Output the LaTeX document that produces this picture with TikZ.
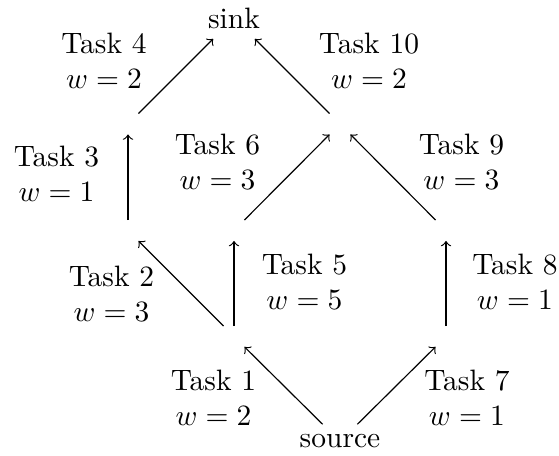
\documentclass[tikz,border=0pt]{standalone}
\begin{document}
\begin{tikzpicture}[x=0.339pt,y=-0.339pt,
  pt/.style={inner sep=0.3333em},
  lbl/.style={align=center},
  arr/.style={->}]
\useasboundingbox (0,0) rectangle (559,456);
% vertices
\node (source) at (340,441.5) {source};
\node (sink) at (234,18) {sink};
\node[pt] (A) at (234,336.5) {};
\node[pt] (B) at (446,336.5) {};
\node[pt] (C) at (128,230.5) {};
\node[pt] (F) at (234,230.5) {};
\node[pt] (G) at (446,230.5) {};
\node[pt] (E) at (128,124) {};
\node[pt] (D) at (340,124) {};
% edges
\draw[arr] (source) -- (A);
\draw[arr] (source) -- (B);
\draw[arr] (A) -- (C);
\draw[arr] (A) -- (F);
\draw[arr] (B) -- (G);
\draw[arr] (C) -- (E);
\draw[arr] (F) -- (D);
\draw[arr] (G) -- (D);
\draw[arr] (E) -- (sink);
\draw[arr] (D) -- (sink);
% labels
\node[lbl] (l1) at (213.5,397.5) {Task 1\\$w=2$};
\node[lbl] (l7) at (467,397.5) {Task 7\\$w=1$};
\node[lbl] (l2) at (111.5,294) {Task 2\\$w=3$};
\node[lbl] (l5) at (304.5,282) {Task 5\\$w=5$};
\node[lbl] (l8) at (515,282) {Task 8\\$w=1$};
\node[lbl] (l3) at (56.5,173.5) {Task 3\\$w=1$};
\node[lbl] (l6) at (217.5,161.5) {Task 6\\$w=3$};
\node[lbl] (l9) at (461.5,161.5) {Task 9\\$w=3$};
\node[lbl] (l4) at (104,61) {Task 4\\$w=2$};
\node[lbl] (l10) at (369,61) {Task 10\\$w=2$};
\end{tikzpicture}
\end{document}
